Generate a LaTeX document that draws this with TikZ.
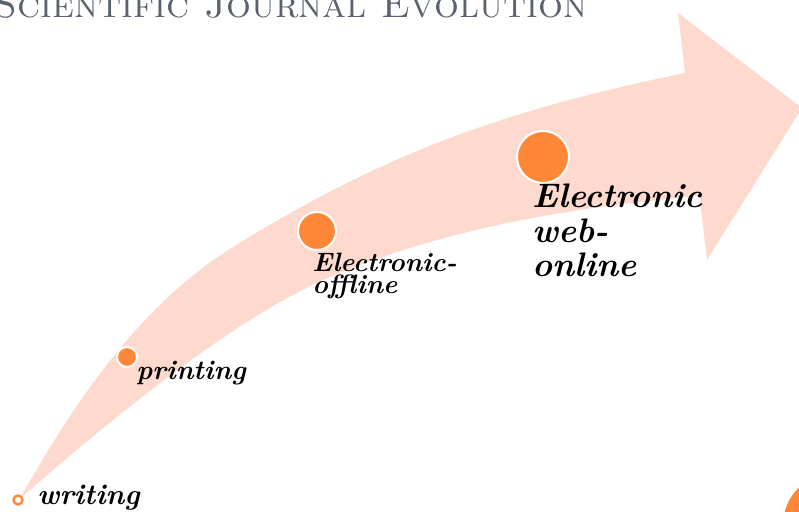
\documentclass[tikz,border=0pt]{standalone}
\usepackage{xcolor}
\definecolor{bandpink}{RGB}{253,217,206}
\definecolor{dotorange}{RGB}{254,136,56}
\definecolor{titlegray}{RGB}{90,98,112}
\begin{document}
\begin{tikzpicture}[x=0.5pt, y=-0.5pt,
            dot/.style={circle, fill=dotorange, draw=white, line width=1pt, inner sep=0pt},
            ring/.style={circle, fill=white, draw=dotorange, line width=1.2pt, inner sep=0pt, minimum size=4.5pt},
            stage/.style={anchor=base west, inner sep=0pt, align=left, font=\bfseries\itshape}
        ]
            \useasboundingbox (0,0) rectangle (799,512);
            \clip (0,0) rectangle (799,512);

            \fill[bandpink] (22,495) .. controls (75,401) and (141,304) .. (233,247)
                .. controls (386,152) and (509,109) .. (685,73)
                -- (678,13) -- (802,108) -- (707,260) -- (699.5,196)
                .. controls (573.5,207) and (446,228) .. (330,277)
                .. controls (238,316) and (116.5,414) .. (22,497) -- cycle;

            \node[anchor=base west, inner sep=0pt, text=titlegray, font=\fontsize{19.6}{20}\selectfont] (title) at (-7,18) {\textsc{Scientific Journal Evolution}};

            \node[ring] (writedot) at (18,500) {};
            \node[dot, minimum size=10pt] (printdot) at (127,357) {};
            \node[dot, minimum size=19pt] (offdot) at (317,231) {};
            \node[dot, minimum size=26pt] (ondot) at (543,157) {};
            \node[dot, draw=none, minimum size=52pt] (nextdot) at (835,525) {};

            \node[stage, font=\fontsize{14.4}{16}\bfseries\itshape] (writing) at (37,505) {writing};
            \node[stage, font=\fontsize{13.6}{16}\bfseries\itshape] (printing) at (136,380) {printing};
            \node[stage, font=\fontsize{13.3}{11}\bfseries\itshape] (offline) at (312,294) {Electronic-\\offline};
            \node[stage, font=\fontsize{17}{17.4}\bfseries\itshape] (online) at (532,277) {Electronic\\web-\\online};
        \end{tikzpicture}
\end{document}
